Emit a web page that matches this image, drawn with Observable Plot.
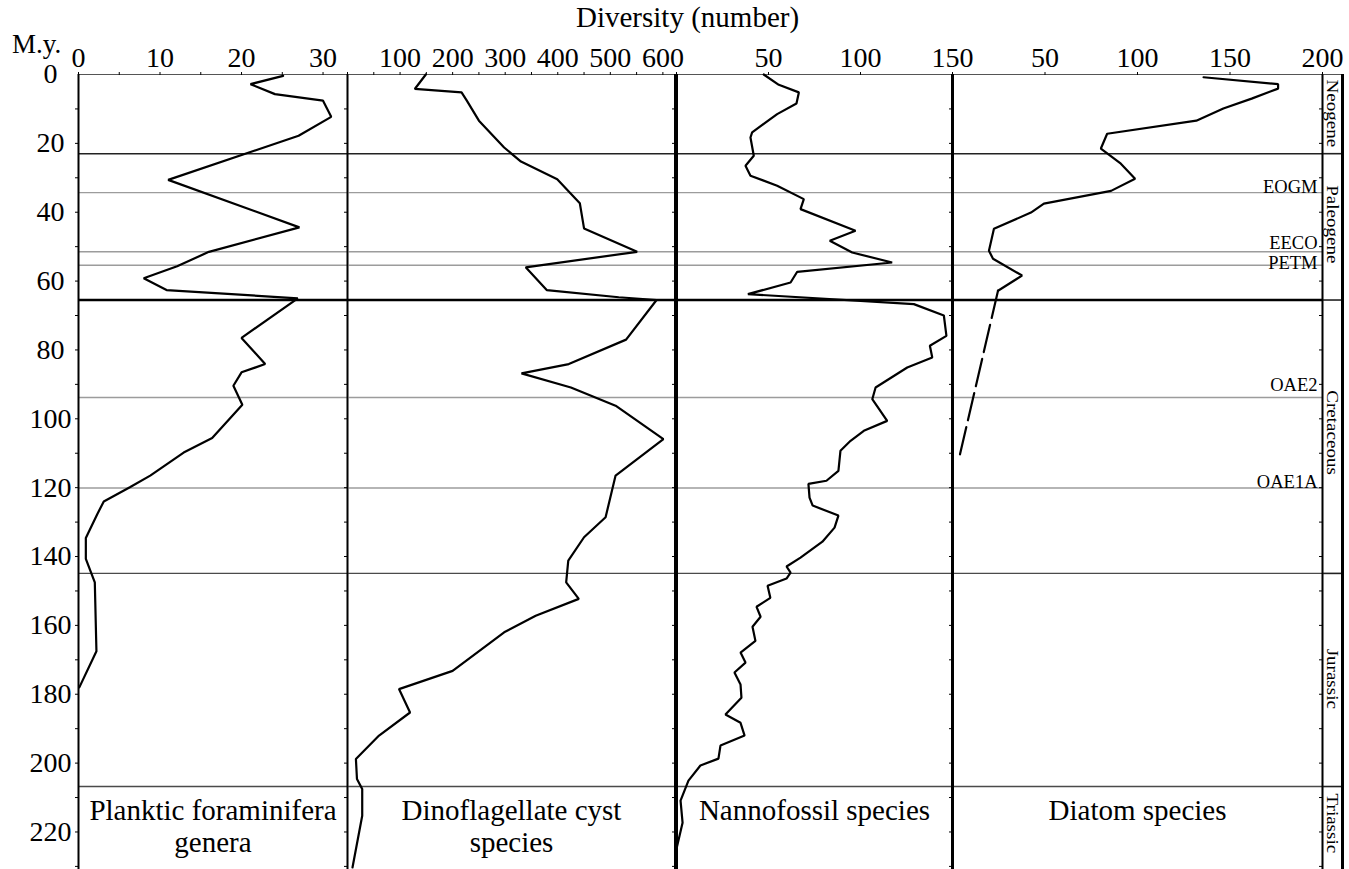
<!DOCTYPE html>
<html><head><meta charset="utf-8">
<script src="https://cdn.jsdelivr.net/npm/d3@7"></script>
<script src="https://cdn.jsdelivr.net/npm/@observablehq/plot@0.6"></script>
<style>
body{margin:0;background:#fff;}
#chart{position:relative;width:1349px;height:869px;overflow:hidden;background:#fff;font-family:"Liberation Serif","Times New Roman",serif;color:#000;}
#chart svg{position:absolute;top:0;overflow:visible;}
.lbl{position:absolute;white-space:nowrap;line-height:1;}
</style></head><body>
<div id="chart">
  <div class="lbl" style="left:576px;top:3px;font-size:29px;">Diversity (number)</div>
  <div class="lbl" style="left:12px;top:31px;font-size:27px;">M.y.</div>
</div>
<script>
// ---------- data ----------
const foramAge = [0.4, 2.8, 5.7, 7.6, 12.3, 17.8, 30.6, 44.4, 51.5, 55.7, 59.2, 62.6, 65.0, 76.5, 84.1, 86.5, 90.4, 95.9, 105.6, 109.8, 116.5, 119.9, 124.0, 127.7, 134.6, 140.7, 147.5, 167.5, 178.0];
const foramVal = [25.1, 21.1, 24.1, 30.0, 31.0, 27.0, 11.0, 27.1, 16.0, 12.1, 8.0, 10.8, 26.9, 20.0, 22.9, 20.0, 19.0, 20.1, 16.4, 12.9, 8.8, 6.3, 3.1, 2.3, 0.9, 0.9, 2.0, 2.2, 0.1];

const dinoAge = [0, 4.2, 5.2, 7.6, 13.4, 21.2, 25.3, 30.4, 37.4, 44.7, 51.5, 56.0, 62.6, 64.7, 65.5, 77.0, 84.1, 86.8, 90.9, 96.2, 105.9, 116.5, 128.6, 134.4, 141.2, 147.5, 152.3, 157.2, 162.0, 173.2, 178.5, 185.3, 192.0, 198.8, 204.6, 207.5, 215.3, 230.3];
const dinoVal = [149, 128, 217, 227, 250, 298, 330, 399, 442, 450, 551, 339, 379, 516, 588, 530, 421, 331, 425, 510, 601, 510, 491, 450, 420, 416, 440, 358, 298, 200, 98, 119, 60, 16, 18, 28, 28, 9.5];

const nannoAge = [0, 3.0, 5.2, 8.4, 11.5, 16.8, 18.3, 23.6, 26.5, 29.4, 32.3, 36.2, 39.1, 45.4, 48.3, 51.7, 54.6, 57.3, 60.4, 63.8, 66.7, 70.0, 75.9, 78.8, 82.2, 85.1, 90.9, 94.3, 100.6, 103.5, 106.4, 109.3, 115.1, 118.0, 118.9, 122.9, 125.2, 128.1, 131.6, 135.7, 140.3, 142.9, 144.7, 146.4, 148.5, 152.0, 154.6, 157.5, 160.4, 164.5, 167.9, 170.8, 173.7, 177.2, 181.0, 185.9, 188.3, 192.0, 194.9, 198.7, 200.7, 205.1, 210.9, 217.3, 224.9];
const nannoVal = [47.4, 55.6, 66.5, 65.2, 54.7, 41.1, 40.2, 42.0, 37.5, 40.2, 54.7, 69.2, 67.4, 97.3, 83.3, 95.5, 117.2, 65.6, 62.0, 38.8, 129.0, 145.3, 146.7, 137.7, 139.0, 125.4, 108.2, 106.4, 114.5, 101.8, 94.6, 89.1, 88.0, 81.5, 71.7, 72.3, 74.0, 88.0, 85.9, 79.3, 67.4, 59.8, 62.0, 59.8, 49.5, 51.0, 43.5, 45.7, 41.3, 42.9, 34.8, 37.5, 31.5, 34.8, 35.3, 26.6, 34.8, 37.0, 23.9, 22.8, 13.0, 6.5, 2.2, 3.3, 0];

const diatomAge = [0.8, 2.8, 4.1, 7.0, 9.9, 13.4, 17.2, 21.5, 25.9, 30.3, 33.8, 37.5, 40.1, 44.8, 51.2, 53.5, 58.4, 62.8];
const diatomVal = [135.7, 176, 176, 161.7, 146.4, 131.8, 83.6, 80.2, 91, 98.7, 85.7, 49.4, 42.4, 22.4, 19.7, 21.9, 37.6, 24.6];
const diatomDashAge = [62.8, 111.6];
const diatomDashVal = [24.6, 3.5];

const periodBoundaryAges = [23, 65.5, 144.9, 206.8];
const eventAges = [34.3, 51.5, 55.4, 93.8, 120.1];
const eventNames = ["EOGM", "EECO", "PETM", "OAE2", "OAE1A"];
const periodNames = ["Neogene", "Paleogene", "Cretaceous", "Jurassic", "Triassic"];
const periodLabelAges = [11.3, 43.5, 104, 175.5, 217.5];

const ageTicks = [0, 20, 40, 60, 80, 100, 120, 140, 160, 180, 200, 220];
const panelTitles = ["Planktic foraminifera\ngenera", "Dinoflagellate cyst\nspecies", "Nannofossil species", "Diatom species"];

// ---------- layout ----------
const H = 869, TOP = 74, AGE_MAX = 230.9;
const SERIF = '"Liberation Serif","Times New Roman",serif';
const chart = document.getElementById("chart");
const table = (ages, vals) => ages.map((a, i) => ({age: a, v: vals[i]}));

function commonRules() {
  return [
    Plot.ruleY(eventAges, {stroke: "#9c9c9c", strokeWidth: 1.4}),
    Plot.ruleY(periodBoundaryAges.filter(a => a > 100), {stroke: "#4a4a4a", strokeWidth: 1.4}),
    Plot.ruleY(periodBoundaryAges.filter(a => a < 30), {stroke: "#222", strokeWidth: 1.6}),
    Plot.ruleY(periodBoundaryAges.filter(a => a > 60 && a < 70), {stroke: "#000", strokeWidth: 2.6}),
    Plot.ruleY([0], {stroke: "#555", strokeWidth: 1})
  ];
}

function panel({x0, x1, domain, ticks, labels, lines, title, leftW, rightW, yAxis = false, extra = []}) {
  const ml = yAxis ? x0 : 10;
  const left = yAxis ? 0 : x0 - 10;
  const p = Plot.plot({
    width: (x1 - x0) + ml + 10, height: H,
    marginTop: TOP, marginBottom: 0, marginLeft: ml, marginRight: 10,
    style: {background: "none", overflow: "visible", fontFamily: SERIF, fontSize: "28px", color: "#000"},
    x: {domain, axis: null},
    y: {domain: [0, AGE_MAX], reverse: true, axis: null},
    marks: [
      ...commonRules(),
      Plot.axisX({anchor: "top", ticks, tickSize: 3, tickPadding: 5, label: null,
                  tickFormat: d => labels.includes(d) ? String(d) : ""}),
      Plot.axisY({anchor: "right", ticks: d3.range(10, 231, 10), tickSize: -4, tickFormat: () => "", label: null}),
      ...(yAxis ? [
        Plot.text(ageTicks, {y: d => d, text: d => String(d), frameAnchor: "left", dx: -28,
                             textAnchor: "middle", lineAnchor: "middle", fontSize: 28}),
        Plot.axisY({anchor: "left", ticks: d3.range(10, 231, 10), tickSize: 3, tickFormat: () => "", label: null})
      ] : []),
      Plot.ruleX([domain[0]], {stroke: "#000", strokeWidth: leftW}),
      Plot.ruleX([domain[1]], {stroke: "#000", strokeWidth: rightW}),
      ...lines,
      Plot.text([title], {text: d => d, frameAnchor: "bottom", lineAnchor: "top", dy: -72, fontSize: 29, lineHeight: 1.1}),
      ...extra
    ]
  });
  p.style.left = left + "px";
  chart.append(p);
}

const lineStyle = {x: "v", y: "age", stroke: "#000", strokeWidth: 2.2, strokeLinejoin: "miter"};

// event labels: per-label vertical nudges (kept in code, not in the data arrays)
const eventNudge = {EOGM: 0, EECO: -2.5, PETM: 3.5, OAE2: -6.5, OAE1A: 0};
const eventTable = eventAges.map((a, i) => ({age: a, name: eventNames[i]}));
const eventMarks = eventNames.map(n => Plot.text(eventTable.filter(d => d.name === n),
  {y: "age", text: "name", frameAnchor: "right", textAnchor: "end", lineAnchor: "bottom",
   dx: -5, dy: eventNudge[n], fontSize: 18.5}));

panel({x0: 78, x1: 347, domain: [0, 33], ticks: d3.range(0, 31, 5), labels: [0, 10, 20, 30],
  lines: [Plot.line(table(foramAge, foramVal), lineStyle)], title: panelTitles[0], leftW: 2, rightW: 1.6, yAxis: true});

panel({x0: 347, x1: 675, domain: [0, 624], ticks: d3.range(0, 601, 50), labels: [100, 200, 300, 400, 500, 600],
  lines: [Plot.line(table(dinoAge, dinoVal), lineStyle)], title: panelTitles[1], leftW: 1.6, rightW: 3});

panel({x0: 676, x1: 952, domain: [0, 150], ticks: [0, 50, 100, 150], labels: [50, 100, 150],
  lines: [Plot.line(table(nannoAge, nannoVal), lineStyle)], title: panelTitles[2], leftW: 3, rightW: 3});

panel({x0: 952, x1: 1322, domain: [0, 200], ticks: [0, 50, 100, 150, 200], labels: [50, 100, 150, 200],
  lines: [
    Plot.line(table(diatomAge, diatomVal), lineStyle),
    Plot.line(table(diatomDashAge, diatomDashVal), {...lineStyle, strokeDasharray: "28,7"})
  ],
  title: panelTitles[3], leftW: 3, rightW: 1.6, extra: eventMarks});

// period strip
const strip = Plot.plot({
  width: 40, height: H, marginTop: TOP, marginBottom: 0, marginLeft: 10, marginRight: 10,
  style: {background: "none", overflow: "visible", fontFamily: SERIF, fontSize: "17px", color: "#000"},
  x: {domain: [0, 1], axis: null},
  y: {domain: [0, AGE_MAX], reverse: true, axis: null},
  marks: [
    Plot.ruleY(periodBoundaryAges, {stroke: "#222", strokeWidth: 1.6}),
    Plot.ruleY([0], {stroke: "#555", strokeWidth: 1}),
    Plot.ruleX([0], {stroke: "#000", strokeWidth: 1.6}),
    Plot.ruleX([1], {stroke: "#000", strokeWidth: 3}),
    Plot.text(periodNames.map((n, i) => ({name: n, age: periodLabelAges[i]})),
      {y: "age", text: "name", rotate: 90, frameAnchor: "middle", fontSize: 17})
  ]
});
// the reference's period names are drawn slightly elongated along their reading direction
strip.querySelectorAll("text").forEach(t => {
  const tr = t.getAttribute("transform");
  if (tr && tr.includes("rotate")) t.setAttribute("transform", tr + " scale(1.12,1)");
});
strip.style.left = "1312px";
chart.append(strip);
</script>
</body></html>
